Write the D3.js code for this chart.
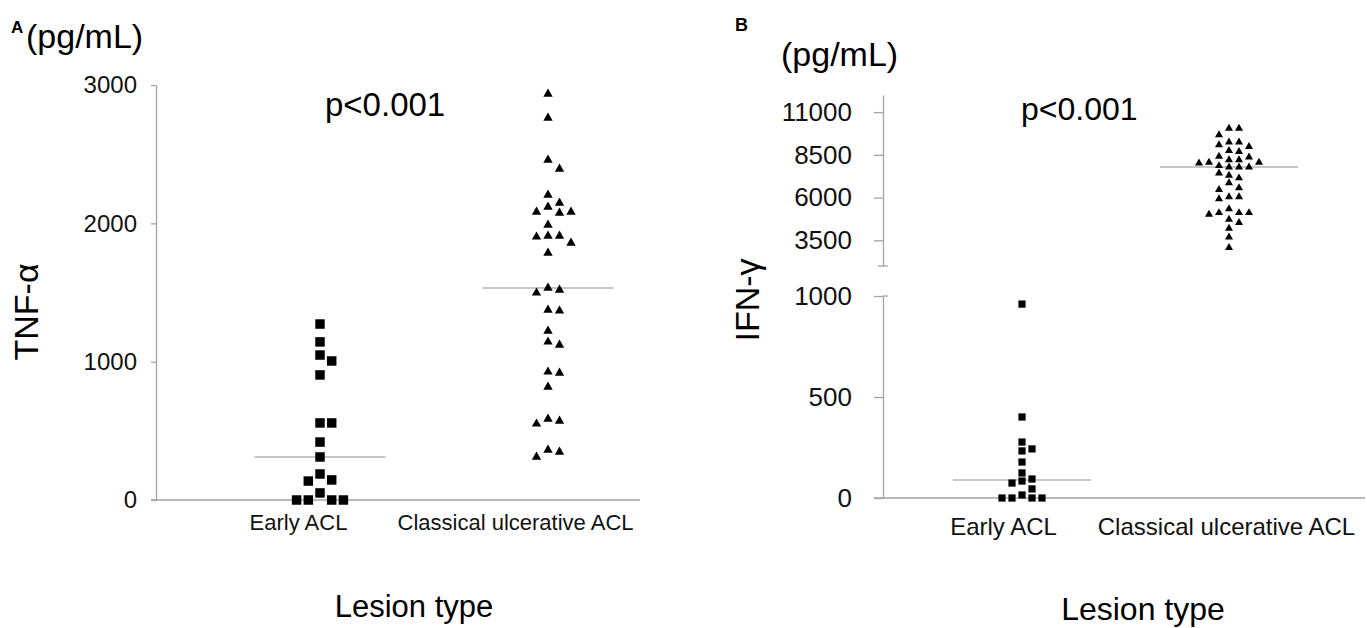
<!DOCTYPE html>
<html><head><meta charset="utf-8">
<script src="https://cdn.jsdelivr.net/npm/d3@7"></script>
<style>
body{margin:0;background:#fff;}
svg{display:block;font-family:"Liberation Sans",Arial,Helvetica,sans-serif;}
</style></head><body>
<svg id="c" width="1367" height="628"></svg>
<script>
// ---------------- data ----------------
const categories = ["Early ACL", "Classical ulcerative ACL"];
// Panel A: TNF-alpha (pg/mL)
const tnfEarly = [1272, 1143, 1048, 1005, 904, 557, 557, 419, 311, 188, 145, 137, 51, 0, 0, 0, 0];
const tnfClassical = [2935, 2762, 2458, 2393, 2205, 2147, 2118, 2082, 2082, 2075, 1988, 1909, 1909, 1902, 1858, 1786,
  1533, 1518, 1497, 1374, 1367, 1222, 1143, 1121, 926, 918, 817, 586, 571, 550, 362, 347, 311];
// Panel B: IFN-gamma (pg/mL)
const ifnEarly = [960, 401, 277, 243, 233, 178, 124, 94, 84, 74, 45, 15, 0, 0, 0, 0];
const ifnClassical = [10052, 10052, 9663, 9238, 9238, 9081, 8983, 8750, 8692, 8403, 8370, 8209, 8209, 8054, 8054, 8016,
  7860, 7783, 7783, 7783, 7434, 7297, 7145, 6855, 6564, 6465, 6041, 6041, 5925, 5344, 5112, 5112, 5112, 5012,
  4721, 4530, 4198, 3692, 3076];
const tnfTicks = [0, 1000, 2000, 3000];
const ifnUpperTicks = [3500, 6000, 8500, 11000];
const ifnLowerTicks = [0, 500, 1000];
const pLabel = "p<0.001";
const unitLabel = "(pg/mL)";
const xTitle = "Lesion type";

// ---------------- helpers ----------------
const svg = d3.select("#c");
const AX = "#a3a3a3";
const fmt = d3.format("d");

function swarm(values, yOf, cx, step, minDist) {
  const pts = values.map(v => ({ v, y: yOf(v) })).sort((a, b) => a.y - b.y);
  const placed = [];
  pts.forEach(p => {
    for (let i = 0; i < 60; i++) {
      const k = i === 0 ? 0 : (i % 2 === 1 ? (i + 1) / 2 : -(i / 2));
      if (!placed.some(q => q.k === k && Math.abs(q.y - p.y) < minDist)) { p.k = k; break; }
    }
    placed.push(p);
  });
  pts.forEach(p => p.x = cx + p.k * step);
  return pts;
}
function styleAxis(g, fs) {
  g.selectAll("path.domain").attr("stroke", AX).attr("stroke-width", 1.3);
  g.selectAll(".tick line").attr("stroke", AX).attr("stroke-width", 1.3);
  g.selectAll(".tick text").attr("fill", "#111").style("font-size", fs + "px").style("font-family", "Liberation Sans, Arial, sans-serif");
}
function drawPoints(pts, shape, size) {
  svg.append("g").selectAll("path").data(pts).join("path")
    .attr("d", d3.symbol().type(shape).size(size))
    .attr("transform", d => `translate(${d.x},${d.y})`)
    .attr("fill", "#000");
}
function medianLine(values, yOf, cx, w) {
  const m = d3.median(values);
  svg.append("line").attr("x1", cx - w / 2).attr("x2", cx + w / 2)
    .attr("y1", yOf(m)).attr("y2", yOf(m)).attr("stroke", "#b4b4b4").attr("stroke-width", 1.5);
}

// ---------------- Panel A ----------------
const yA = d3.scaleLinear().domain([0, 3000]).range([500, 85]);
const xA = d3.scalePoint().domain(categories).range([320, 548]);
const xALab = d3.scalePoint().domain(categories).range([298, 515]);
const axA = svg.append("g").attr("transform", "translate(156,0)")
  .call(d3.axisLeft(yA).tickValues(tnfTicks).tickFormat(fmt).tickSize(5).tickPadding(14).tickSizeOuter(0));
styleAxis(axA, 24);
svg.append("line").attr("x1", 151).attr("x2", 640).attr("y1", yA(0)).attr("y2", yA(0)).attr("stroke", AX).attr("stroke-width", 1.3);
const labA = svg.append("g").attr("transform", `translate(0,${yA(0)})`)
  .call(d3.axisBottom(xALab).tickSize(0).tickPadding(14));
labA.select("path.domain").remove();
labA.selectAll(".tick text").attr("fill", "#111").style("font-size", "22px").style("font-family", "Liberation Sans, Arial, sans-serif");

medianLine(tnfEarly, yA, xA(categories[0]), 131);
medianLine(tnfClassical, yA, xA(categories[1]), 131);
drawPoints(swarm(tnfEarly, yA, xA(categories[0]), 11.7, 10), d3.symbolSquare, 90);
drawPoints(swarm(tnfClassical, yA, xA(categories[1]), 11.5, 9), d3.symbolTriangle, 38);

svg.append("text").attr("x", 11).attr("y", 33).attr("font-weight", "bold").attr("font-size", 17).text("A");
svg.append("text").attr("x", 26).attr("y", 48).attr("font-size", 34).text(unitLabel);
svg.append("text").attr("transform", "translate(38,312) rotate(-90)").attr("text-anchor", "middle").attr("font-size", 34).text("TNF-α");
svg.append("text").attr("x", 325).attr("y", 116).attr("font-size", 33).text(pLabel);
svg.append("text").attr("x", 414).attr("y", 617).attr("text-anchor", "middle").attr("font-size", 31).text(xTitle);

// ---------------- Panel B ----------------
const yUp = d3.scaleLinear().domain([2000, 12000]).range([266, 95]);
const yLow = d3.scaleLinear().domain([0, 1000]).range([498, 296]);
const yB = v => (v >= 2000 ? yUp(v) : yLow(v));
const xB = d3.scalePoint().domain(categories).range([1022, 1229]);
const xBLab = d3.scalePoint().domain(categories).range([1003, 1226]);
const axBU = svg.append("g").attr("transform", "translate(883,0)")
  .call(d3.axisLeft(yUp).tickValues(ifnUpperTicks).tickFormat(fmt).tickSize(9).tickPadding(22).tickSizeOuter(0));
styleAxis(axBU, 26);
svg.append("line").attr("x1", 878).attr("x2", 888).attr("y1", yUp(2000)).attr("y2", yUp(2000)).attr("stroke", AX).attr("stroke-width", 1.3);
const axBL = svg.append("g").attr("transform", "translate(883,0)")
  .call(d3.axisLeft(yLow).tickValues(ifnLowerTicks).tickFormat(fmt).tickSize(9).tickPadding(22).tickSizeOuter(0));
styleAxis(axBL, 26);
svg.append("line").attr("x1", 883).attr("x2", 888).attr("y1", yLow(1000)).attr("y2", yLow(1000)).attr("stroke", AX).attr("stroke-width", 1.3);
svg.append("line").attr("x1", 874).attr("x2", 1365).attr("y1", yLow(0)).attr("y2", yLow(0)).attr("stroke", AX).attr("stroke-width", 1.3);
const labB = svg.append("g").attr("transform", `translate(0,${yLow(0)})`)
  .call(d3.axisBottom(xBLab).tickSize(0).tickPadding(20));
labB.select("path.domain").remove();
labB.selectAll(".tick text").attr("fill", "#111").style("font-size", "24px").style("font-family", "Liberation Sans, Arial, sans-serif");

medianLine(ifnEarly, yB, xB(categories[0]), 138);
medianLine(ifnClassical, yB, xB(categories[1]), 138);
drawPoints(swarm(ifnEarly, yB, xB(categories[0]), 10, 8), d3.symbolSquare, 52);
drawPoints(swarm(ifnClassical, yB, xB(categories[1]), 10, 7), d3.symbolTriangle, 28);

svg.append("text").attr("x", 735).attr("y", 31).attr("font-weight", "bold").attr("font-size", 18).text("B");
svg.append("text").attr("x", 781).attr("y", 66).attr("font-size", 34).text(unitLabel);
svg.append("text").attr("transform", "translate(759,300) rotate(-90)").attr("text-anchor", "middle").attr("font-size", 34).text("IFN-γ");
svg.append("text").attr("x", 1021).attr("y", 120).attr("font-size", 32).text(pLabel);
svg.append("text").attr("x", 1143).attr("y", 620).attr("text-anchor", "middle").attr("font-size", 32).text(xTitle);
</script>
</body></html>
